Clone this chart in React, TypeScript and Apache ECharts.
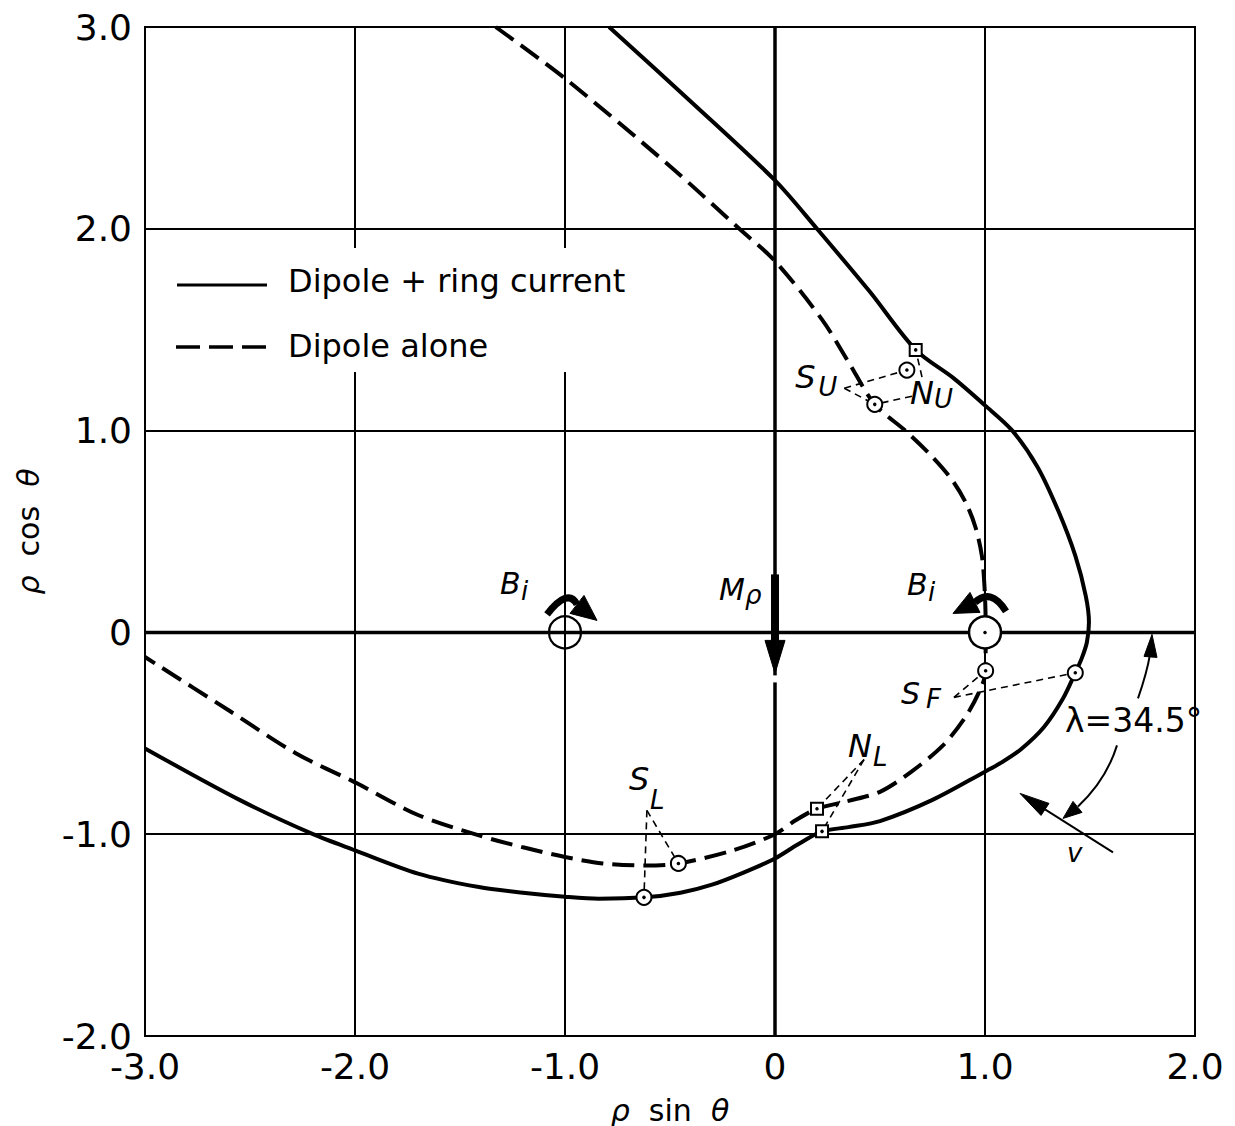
import React, { useEffect, useRef } from "react";
import * as echarts from "echarts";

// Axis ticks: ρ sin θ (horizontal) and ρ cos θ (vertical)
const xTicks = [-3, -2, -1, 0, 1, 2];
const xTickLabels = ["-3.0", "-2.0", "-1.0", "0", "1.0", "2.0"];
const yTicks = [-2, -1, 0, 1, 2, 3];
const yTickLabels = ["-2.0", "-1.0", "0", "1.0", "2.0", "3.0"];

// Orbit in the field of the dipole plus ring current (solid)
const ringCurrentPath: [number, number][] = [
  [-0.79, 3.0], [-0.4, 2.63], [0, 2.24], [0.2, 2.0], [0.45, 1.69], [0.67, 1.4],
  [0.85, 1.26], [1.0, 1.125], [1.13, 1.0], [1.25, 0.82], [1.35, 0.6], [1.43, 0.38],
  [1.48, 0.18], [1.495, 0.05], [1.485, -0.05], [1.46, -0.13], [1.43, -0.2], [1.37, -0.33],
  [1.28, -0.47], [1.17, -0.58], [1.07, -0.65], [1.0, -0.69], [0.75, -0.83], [0.5, -0.935],
  [0.35, -0.965], [0.224, -0.986], [0.11, -1.05], [0, -1.12], [-0.15, -1.19], [-0.3, -1.25],
  [-0.45, -1.29], [-0.62, -1.313], [-0.84, -1.32], [-1.0, -1.31], [-1.2, -1.29], [-1.41, -1.262],
  [-1.7, -1.195], [-2.0, -1.08], [-2.2, -1.0], [-2.55, -0.83], [-3.0, -0.575],
];

// Orbit in the field of the dipole alone (dashed)
const dipolePath: [number, number][] = [
  [-1.33, 3.0], [-1.0, 2.745], [-0.5, 2.31], [-0.17, 2.0], [0, 1.84], [0.224, 1.55], [0.35, 1.34],
  [0.475, 1.13], [0.62, 1.0], [0.74, 0.88], [0.84, 0.76], [0.91, 0.64], [0.955, 0.52], [0.985, 0.38],
  [0.998, 0.22], [1.003, 0.05], [1.003, -0.19], [0.97, -0.3], [0.9, -0.43], [0.8, -0.56], [0.65, -0.69],
  [0.5, -0.79], [0.35, -0.835], [0.2, -0.874], [0.1, -0.93], [0, -1.0], [-0.2, -1.08], [-0.46, -1.145],
  [-0.62, -1.155], [-0.82, -1.145], [-1.0, -1.113], [-1.2, -1.065], [-1.41, -1.006], [-1.7, -0.905],
  [-2.0, -0.743], [-2.28, -0.6], [-2.6, -0.387], [-3.0, -0.122],
];

// Marked points along the orbits
const circleMarks: [number, number][] = [
  [0.628, 1.3], [0.475, 1.13], [1.003, -0.19], [1.43, -0.2], [-0.46, -1.145], [-0.624, -1.313],
];
const squareMarks: [number, number][] = [[0.67, 1.4], [0.2, -0.874], [0.224, -0.986]];
const ionOpen: [number, number][] = [[-1, 0]];
const ionFilled: [number, number][] = [[1, 0]];

// Leader lines from the point labels to the marks
const leaderLines: [number, number][][] = [
  [[0.33, 1.21], [0.628, 1.3]], [[0.33, 1.21], [0.475, 1.13]],
  [[0.7, 1.265], [0.67, 1.4]], [[0.652, 1.17], [0.475, 1.13]],
  [[0.852, -0.322], [1.003, -0.19]], [[0.852, -0.322], [1.43, -0.2]],
  [[-0.61, -0.882], [-0.624, -1.313]], [[-0.61, -0.882], [-0.46, -1.145]],
  [[0.424, -0.63], [0.2, -0.874]], [[0.424, -0.63], [0.224, -0.986]],
];

// Point labels: letter + subscript, anchored at a data point with pixel offsets
const pointLabels = [
  { main: "S", sub: "U", at: [0.33, 1.21], dx: -49, dy: -27, sdx: 23, sdy: 13, size: 32 },
  { main: "N", sub: "U", at: [0.652, 1.17], dx: -2, dy: -19, sdx: 24, sdy: 9, size: 32 },
  { main: "S", sub: "F", at: [0.852, -0.322], dx: -53, dy: -19, sdx: 25, sdy: 8, size: 30 },
  { main: "S", sub: "L", at: [-0.61, -0.882], dx: -18, dy: -47, sdx: 21, sdy: 24, size: 32 },
  { main: "N", sub: "L", at: [0.424, -0.63], dx: -16, dy: -30, sdx: 25, sdy: 14, size: 32 },
  { main: "B", sub: "i", at: [-1, 0], dx: -65, dy: -64, sdx: 21, sdy: 10, size: 30 },
  { main: "B", sub: "i", at: [1, 0], dx: -78, dy: -63, sdx: 21, sdy: 10, size: 30 },
  { main: "M", sub: "ρ", at: [0, 0], dx: -56, dy: -58, sdx: 26, sdy: 8, size: 30 },
];

const legendItems = ["Dipole + ring current", "Dipole alone"];
const angleLabel = "λ=34.5°";

const FF = '"DejaVu Sans", sans-serif';

function buildOption(): any {
  const axisLabel = (ticks: number[], labels: string[]) => ({
    color: "#000",
    fontSize: 36,
    lineHeight: 36,
    fontFamily: FF,
    margin: 12,
    showMinLabel: true,
    showMaxLabel: true,
    formatter: (v: number) => {
      const i = ticks.indexOf(Math.round(v * 10) / 10);
      return i >= 0 ? labels[i] : "";
    },
  });
  const markStyle = { color: "#fff", borderColor: "#000", borderWidth: 2, opacity: 1 };
  return {
    animation: false,
    backgroundColor: "#fff",
    grid: {
      left: 145, top: 27, right: 40, bottom: 90,
      show: true, borderColor: "#000", borderWidth: 2,
      containLabel: false, outerBoundsMode: "none",
    },
    xAxis: {
      type: "value", min: -3, max: 2, interval: 1,
      axisLine: { show: false }, axisTick: { show: false },
      splitLine: { show: true, lineStyle: { color: "#000", width: 2 } },
      axisLabel: axisLabel(xTicks, xTickLabels),
    },
    yAxis: {
      type: "value", min: -2, max: 3, interval: 1,
      axisLine: { show: false }, axisTick: { show: false },
      splitLine: { show: true, lineStyle: { color: "#000", width: 2 } },
      axisLabel: { ...axisLabel(yTicks, yTickLabels), margin: 13 },
    },
    series: [
      {
        type: "line", data: [[-3, 0], [2, 0]], showSymbol: false, silent: true, z: 1,
        lineStyle: { color: "#000", width: 3.5 },
      },
      {
        type: "line", data: [[0, -2], [0, 3]], showSymbol: false, silent: true, z: 1,
        lineStyle: { color: "#000", width: 3.5 },
      },
      {
        name: legendItems[0], type: "line", data: ringCurrentPath, smooth: 0.3,
        showSymbol: false, z: 2, lineStyle: { color: "#000", width: 4 },
      },
      {
        name: legendItems[1], type: "line", data: dipolePath, smooth: 0.3,
        showSymbol: false, z: 2, lineStyle: { color: "#000", width: 4, type: [22, 9] },
      },
      {
        type: "lines", coordinateSystem: "cartesian2d", silent: true, z: 3,
        data: leaderLines.map((c) => ({ coords: c })),
        lineStyle: { color: "#000", width: 1.6, type: [7, 5], opacity: 1 },
      },
      {
        type: "scatter", data: ionOpen, symbol: "circle", symbolSize: 32, z: 4,
        itemStyle: { color: "rgba(0,0,0,0)", borderColor: "#000", borderWidth: 2.2, opacity: 1 },
      },
      {
        type: "scatter", data: ionFilled, symbol: "circle", symbolSize: 32, z: 4,
        itemStyle: { color: "#fff", borderColor: "#000", borderWidth: 2.5, opacity: 1 },
      },
      { type: "scatter", data: circleMarks, symbol: "circle", symbolSize: 15, z: 5, itemStyle: markStyle },
      { type: "scatter", data: squareMarks, symbol: "rect", symbolSize: 12, z: 5, itemStyle: markStyle },
      {
        type: "scatter", data: [...circleMarks, ...squareMarks, ...ionFilled],
        symbol: "circle", symbolSize: 3.5, z: 6, itemStyle: { color: "#000", opacity: 1 },
      },
    ],
  };
}

function buildGraphic(P: (x: number, y: number) => number[]): any[] {
  const els: any[] = [];
  const text = (x: number, y: number, t: string, size: number, italic: boolean, extra: any = {}) => ({
    type: "text", x, y, z: 30, silent: true,
    style: {
      text: t, fontSize: size, fontFamily: FF, fontStyle: italic ? "italic" : "normal",
      fill: "#000", align: "left", verticalAlign: "top", ...extra,
    },
  });
  const line = (x1: number, y1: number, x2: number, y2: number, w: number, dash?: number[]) => ({
    type: "line", z: 25, silent: true, shape: { x1, y1, x2, y2 },
    style: { stroke: "#000", lineWidth: w, lineDash: dash, fill: null },
  });
  const curve = (x1: number, y1: number, cx: number, cy: number, x2: number, y2: number, w: number) => ({
    type: "bezierCurve", z: 25, silent: true,
    shape: { x1, y1, x2, y2, cpx1: cx, cpy1: cy },
    style: { stroke: "#000", lineWidth: w, fill: "none" },
  });
  const poly = (pts: number[][]) => ({
    type: "polygon", z: 26, silent: true, shape: { points: pts },
    style: { fill: "#000", stroke: "#000", lineWidth: 1 },
  });
  const rect = (x: number, y: number, w: number, h: number) => ({
    type: "rect", z: 20, silent: true, shape: { x, y, width: w, height: h },
    style: { fill: "#fff" },
  });

  // legend, in the upper-left cell
  const [gx, gy] = P(-3, 3);
  els.push(rect(gx + 25, gy + 221, 480, 124));
  els.push(line(gx + 32, gy + 258, gx + 122, gy + 258, 3));
  els.push(text(gx + 143, gy + 254, legendItems[0], 32, false, { verticalAlign: "middle" }));
  els.push(line(gx + 31, gy + 320, gx + 122, gy + 320, 3.5, [24, 9]));
  els.push(text(gx + 143, gy + 319, legendItems[1], 32, false, { verticalAlign: "middle" }));

  // point labels
  pointLabels.forEach((l) => {
    const [ax, ay] = P(l.at[0], l.at[1]);
    els.push(text(ax + l.dx, ay + l.dy, l.main, l.size, true));
    els.push(text(ax + l.dx + l.sdx, ay + l.dy + l.sdy, l.sub, 26, true));
  });

  // rotation arrows over the two ions
  const [lx, ly] = P(-1, 0);
  els.push(curve(lx - 18, ly - 18, lx + 3, ly - 45, lx + 12, ly - 28, 7));
  els.push(poly([[lx + 32, ly - 12], [lx + 5, ly - 19], [lx + 19, ly - 37]]));
  const [rx, ry] = P(1, 0);
  els.push(curve(rx + 21, ry - 21, rx + 6, ry - 45, rx - 10, ry - 30, 7));
  els.push(poly([[rx - 32, ry - 19], [rx - 5, ry - 20], [rx - 15, ry - 40]]));

  // dipole moment arrow along the vertical axis
  const [ox, oy] = P(0, 0);
  els.push({
    type: "rect", z: 25, silent: true,
    shape: { x: ox - 4, y: oy - 58, width: 8, height: 68 }, style: { fill: "#000" },
  });
  els.push(poly([[ox, oy + 41], [ox - 10, oy + 8], [ox + 10, oy + 8]]));
  els.push(rect(ox - 5, oy + 43, 10, 7));

  // angle λ between the equator and the velocity v
  const [ex, ey] = P(2, 0);
  els.push(curve(ex - 57, ey + 66, ex - 48, ey + 40, ex - 45, ey + 22, 2));
  els.push(poly([[ex - 43, ey + 2], [ex - 51, ey + 24], [ex - 38, ey + 25]]));
  els.push(curve(ex - 78, ey + 113, ex - 89, ey + 148, ex - 117, ey + 174, 2));
  els.push(poly([[ex - 132, ey + 186], [ex - 113, ey + 180], [ex - 122, ey + 169]]));
  els.push(text(ex - 130, ey + 72, angleLabel, 33, false));
  els.push(line(ex - 82, ey + 220, ex - 150, ey + 177, 2));
  els.push(poly([[ex - 175, ey + 161], [ex - 146, ey + 171], [ex - 154, ey + 183]]));
  els.push(text(ex - 128, ey + 208, "v", 26, true));

  // axis names
  const [bx, by] = P(-0.5, -2);
  els.push({
    type: "text", x: bx, y: by + 74, z: 30, silent: true,
    style: {
      text: "{g|ρ}  sin  {g|θ}", fontSize: 30, fontFamily: FF, fill: "#000",
      align: "center", verticalAlign: "middle",
      rich: { g: { fontStyle: "italic", fontSize: 30, fontFamily: FF } },
    },
  });
  const [, cy] = P(-3, 0.5);
  els.push({
    type: "text", x: 28, y: cy, rotation: Math.PI / 2, z: 30, silent: true,
    style: {
      text: "{g|ρ}  cos  {g|θ}", fontSize: 30, fontFamily: FF, fill: "#000",
      align: "center", verticalAlign: "middle",
      rich: { g: { fontStyle: "italic", fontSize: 30, fontFamily: FF } },
    },
  });
  return els;
}

export default function App() {
  const ref = useRef<HTMLDivElement>(null);
  useEffect(() => {
    const el = ref.current;
    if (!el) return;
    const chart = echarts.init(el, null, { renderer: "svg" });
    chart.setOption(buildOption());
    const P = (x: number, y: number) =>
      chart.convertToPixel({ gridIndex: 0 }, [x, y]) as unknown as number[];
    chart.setOption({ graphic: buildGraphic(P) });
    return () => chart.dispose();
  }, []);
  return (
    <div
      ref={ref}
      style={{ position: "fixed", left: 0, top: 0, width: 1235, height: 1126, background: "#fff" }}
    />
  );
}
